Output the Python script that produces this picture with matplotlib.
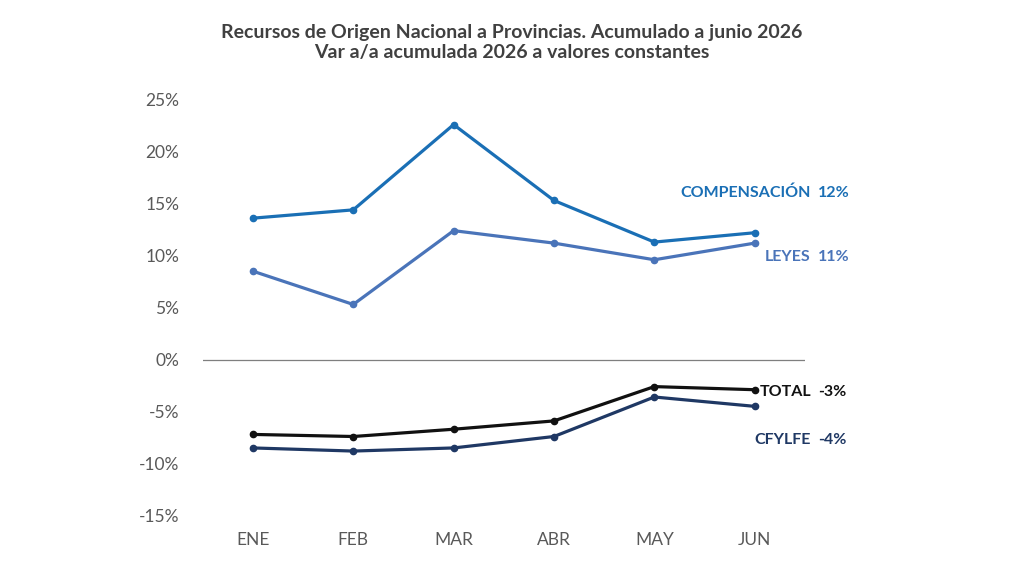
import matplotlib.pyplot as plt
from matplotlib.ticker import PercentFormatter

plt.rcParams['font.family'] = ['Lato', 'DejaVu Sans']
plt.rcParams['axes.unicode_minus'] = False

months = ["ENE", "FEB", "MAR", "ABR", "MAY", "JUN"]
compensacion = [13.6, 14.4, 22.6, 15.3, 11.3, 12.2]
leyes = [8.5, 5.3, 12.4, 11.2, 9.6, 11.2]
total = [-7.2, -7.4, -6.7, -5.9, -2.6, -2.9]
cfylfe = [-8.5, -8.8, -8.5, -7.4, -3.6, -4.5]

series_names = ["COMPENSACIÓN", "LEYES", "TOTAL", "CFYLFE"]
series_labels = ["12%", "11%", "-3%", "-4%"]
series_colors = ["#1a6fb5", "#4a74b9", "#111111", "#1f3864"]
label_y = [16.0, 9.9, -3.1, -7.7]

fig = plt.figure(figsize=(10.24, 5.76), dpi=100)
ax = fig.add_axes([0.198, 0.105, 0.588, 0.722])

x = range(len(months))
for vals, col in zip([compensacion, leyes, total, cfylfe], series_colors):
    ax.plot(x, vals, color=col, lw=2.3, marker='o', ms=4.5)

# series labels at the right end
for name, lab, col, yy in zip(series_names, series_labels, series_colors, label_y):
    ax.text(5.56, yy, name, color=col, fontsize=11.5, fontweight='bold',
            ha='right', va='center', clip_on=False)
    ax.text(5.63, yy, lab, color=col, fontsize=11.5, fontweight='bold',
            ha='left', va='center', clip_on=False)

ax.axhline(0, color='#7f7f7f', lw=0.9)
ax.set_xlim(-0.5, 5.5)
ax.set_ylim(-15, 25)
ax.set_yticks(range(-15, 26, 5))
ax.yaxis.set_major_formatter(PercentFormatter(decimals=0))
ax.set_xticks(list(x))
ax.set_xticklabels(months)
ax.tick_params(length=0, labelsize=12.5, colors='#595959')
ax.tick_params(axis='y', pad=17)
ax.tick_params(axis='x', pad=12)
for s in ax.spines.values():
    s.set_visible(False)

fig.text(0.5, 0.926, "Recursos de Origen Nacional a Provincias. Acumulado a junio 2026\n"
         "Var a/a acumulada 2026 a valores constantes",
         ha='center', va='center', fontsize=14, fontweight='bold', color='#404040',
         linespacing=1.2)

fig.savefig("out.png", dpi=100)
